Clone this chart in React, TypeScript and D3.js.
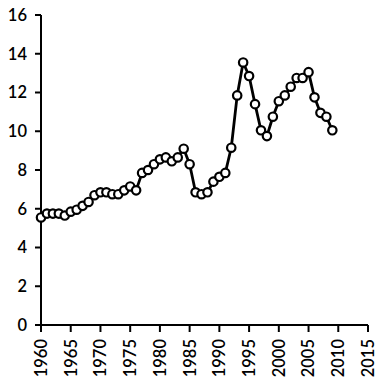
import React from "react";
import * as d3 from "d3";

const years: number[] = d3.range(1960, 2010);
const values: number[] = [
  5.55, 5.75, 5.75, 5.75, 5.65, 5.85, 5.95, 6.15, 6.35, 6.7,
  6.85, 6.85, 6.75, 6.75, 6.95, 7.15, 6.95, 7.85, 8.0, 8.3,
  8.55, 8.65, 8.45, 8.65, 9.1, 8.3, 6.85, 6.75, 6.85, 7.4,
  7.65, 7.85, 9.15, 11.85, 13.55, 12.85, 11.4, 10.05, 9.75, 10.75,
  11.55, 11.85, 12.3, 12.75, 12.75, 13.05, 11.75, 10.95, 10.75, 10.05,
];
const xTicks: number[] = [1960, 1965, 1970, 1975, 1980, 1985, 1990, 1995, 2000, 2005, 2010, 2015];
const yTicks: number[] = [0, 2, 4, 6, 8, 10, 12, 14, 16];

const W = 381;
const H = 384;
const left = 41;
const right = 368;
const top = 15;
const bottom = 325;

export default function App() {
  const x = d3.scaleLinear().domain([1960, 2015]).range([left, right]);
  const y = d3.scaleLinear().domain([0, 16]).range([bottom, top]);
  const data = years.map((yr, i) => ({ yr, v: values[i] }));
  const line = d3
    .line<{ yr: number; v: number }>()
    .x((d) => x(d.yr))
    .y((d) => y(d.v));
  const font = "Lato, 'Open Sans', sans-serif";
  return (
    <svg
      width={W}
      height={H}
      style={{ position: "absolute", left: 0, top: 0, background: "#fff" }}
    >
      <rect x={0} y={0} width={W} height={H} fill="#fff" />
      {/* y axis */}
      <line x1={left} x2={left} y1={top} y2={bottom} stroke="#000" strokeWidth={2} />
      {yTicks.map((t) => (
        <g key={"y" + t}>
          <line x1={left - 6} x2={left} y1={y(t)} y2={y(t)} stroke="#000" strokeWidth={2} />
          <text
            x={27}
            y={y(t)}
            dy="0.36em"
            textAnchor="end"
            fontFamily={font}
            fontSize={16.5}
            fontWeight={600}
            fill="#000"
          >
            {t}
          </text>
        </g>
      ))}
      {/* x axis */}
      <line x1={left} x2={right} y1={bottom} y2={bottom} stroke="#000" strokeWidth={2} />
      {xTicks.map((t) => (
        <g key={"x" + t}>
          <line x1={x(t)} x2={x(t)} y1={bottom} y2={bottom + 7} stroke="#000" strokeWidth={2} />
          <text
            transform={`translate(${x(t)},${bottom + 14}) rotate(-90)`}
            dy="0.36em"
            textAnchor="end"
            fontFamily={font}
            fontSize={16.5}
            fontWeight={600}
            fill="#000"
          >
            {t}
          </text>
        </g>
      ))}
      <path d={line(data) || ""} fill="none" stroke="#000" strokeWidth={2.8} strokeLinejoin="round" />
      {data.map((d) => (
        <circle
          key={d.yr}
          cx={x(d.yr)}
          cy={y(d.v)}
          r={4.2}
          fill="#fff"
          stroke="#000"
          strokeWidth={2.2}
        />
      ))}
    </svg>
  );
}
